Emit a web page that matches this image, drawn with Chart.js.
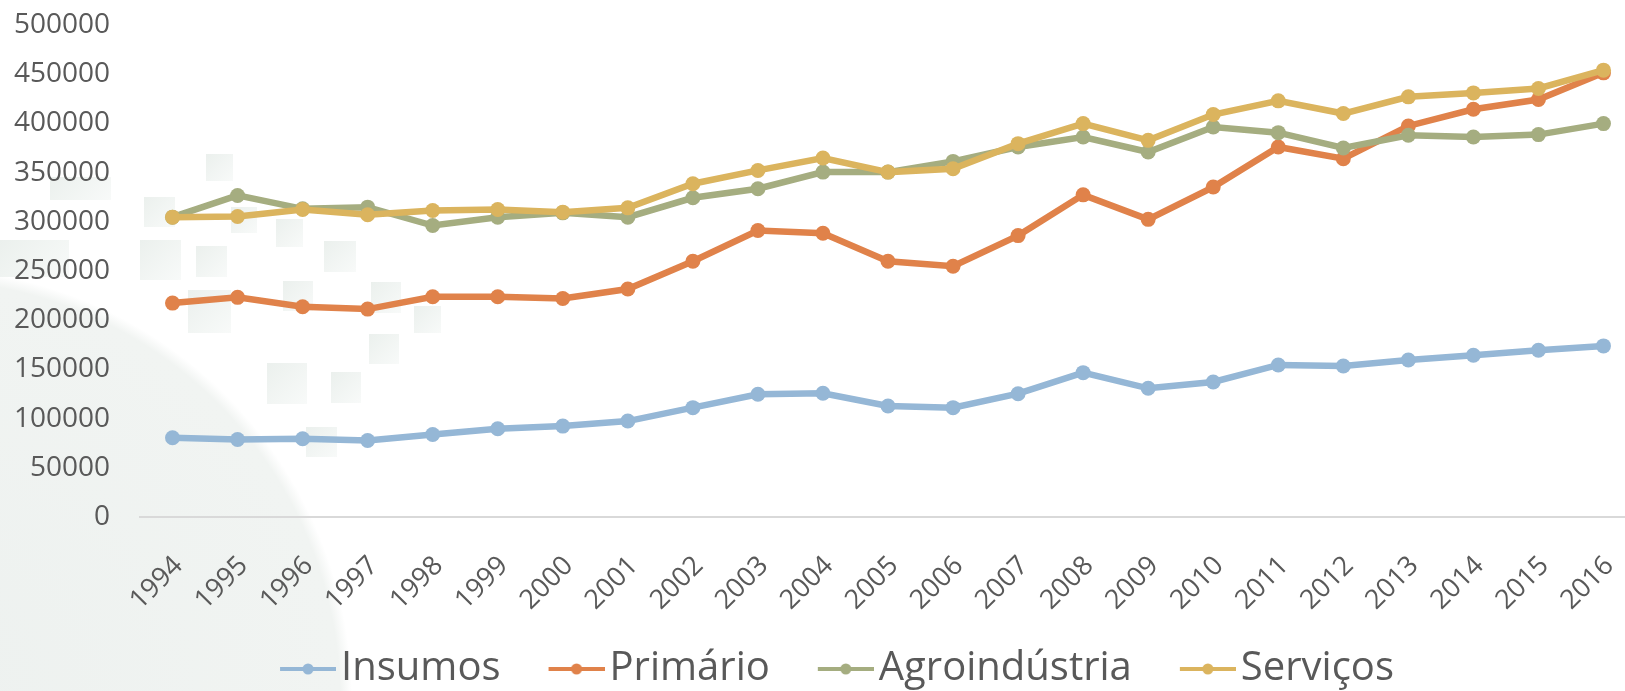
<!DOCTYPE html>
<html>
<head>
<meta charset="utf-8">
<script src="https://cdn.jsdelivr.net/npm/chart.js@4/dist/chart.umd.min.js"></script>
<style>
  html, body { margin: 0; padding: 0; background: #fff; overflow: hidden; }
  #wrap {
    position: relative; width: 1674px; height: 691px;
    background: radial-gradient(circle at -80px 700px, #edf1ef 0, #f1f4f2 420px, rgba(255,255,255,0) 432px);
  }
  #wrap .sq { position: absolute; background: linear-gradient(135deg, #ebf0ed, #f8faf9); }
  #chart { position: absolute; left: 0; top: 0; }
</style>
</head>
<body>
<div id="wrap"><canvas id="chart" width="1674" height="691"></canvas></div>
<script>
const years = ['1994','1995','1996','1997','1998','1999','2000','2001','2002','2003','2004','2005',
               '2006','2007','2008','2009','2010','2011','2012','2013','2014','2015','2016'];

const insumos = [80500, 78800, 79500, 77800, 83900, 89700, 92400, 97500, 111100, 124700, 125700, 112800,
                 111100, 125300, 146700, 130800, 137200, 154500, 153500, 159600, 164400, 169500, 173900];
const primario = [217400, 223200, 213700, 211300, 223800, 223800, 222100, 231700, 259900, 291100, 288400, 259900,
                  254800, 286000, 327400, 302500, 335300, 376000, 364100, 397400, 414400, 424300, 451400];
const agroindustria = [304700, 326800, 313200, 314900, 296200, 304700, 309100, 304700, 324400, 333600, 350500, 350500,
                       361400, 376000, 386200, 370900, 396400, 390600, 375000, 387900, 386200, 388600, 399800];
const servicos = [304700, 305400, 312500, 307100, 311500, 312500, 309800, 314200, 338700, 352200, 364800, 350500,
                  353900, 379400, 399800, 382800, 409000, 422900, 410000, 427000, 431000, 435500, 454100];

const names = ['Insumos', 'Primário', 'Agroindústria', 'Serviços'];
const colors = ['#95b7d6', '#e0824a', '#a5ad80', '#dbb45e'];

const FONT = "'Open Sans', 'Noto Sans', sans-serif";
const GREY = '#595959';

// faint squares of the slide background (x, y, w, h)
const decor = [
    [206, 154, 27, 27], [144, 197, 31, 30], [231, 207, 26, 26], [276, 219, 27, 28],
    [140, 240, 41, 40], [196, 246, 31, 31], [324, 241, 32, 31], [283, 281, 30, 30],
    [188, 290, 43, 43], [371, 282, 30, 31], [414, 306, 27, 27], [369, 334, 30, 30],
    [267, 363, 40, 41], [331, 372, 30, 31], [306, 427, 31, 30], [0, 240, 69, 37],
    [50, 177, 61, 23]
];
const wrap = document.getElementById('wrap');
decor.forEach(([x, y, w, h]) => {
    const d = document.createElement('div');
    d.className = 'sq';
    d.style.cssText = `left:${x}px;top:${y}px;width:${w}px;height:${h}px`;
    wrap.insertBefore(d, wrap.firstChild);
});

// little line+dot marker used in the legend
function legendMarker(color) {
    const c = document.createElement('canvas');
    c.width = 109; c.height = 14;
    const g = c.getContext('2d');
    g.strokeStyle = color; g.lineWidth = 4;
    g.beginPath(); g.moveTo(53, 7); g.lineTo(109, 7); g.stroke();
    g.fillStyle = color;
    g.beginPath(); g.arc(81, 7, 5.5, 0, Math.PI * 2); g.fill();
    return c;
}

function series(i, values, order) {
    return {
        label: names[i],
        data: values,
        borderColor: colors[i],
        backgroundColor: colors[i],
        borderWidth: 6.5,
        pointRadius: 7.5,
        pointHoverRadius: 7.5,
        pointBorderWidth: 0,
        tension: 0,
        order: order
    };
}

new Chart(document.getElementById('chart'), {
    type: 'line',
    data: {
        labels: years,
        datasets: [
            series(0, insumos, 4),
            series(1, primario, 3),
            series(2, agroindustria, 2),
            series(3, servicos, 1)
        ]
    },
    options: {
        responsive: false,
        animation: false,
        layout: { padding: { top: 25, right: 38, bottom: 0 } },
        scales: {
            x: {
                offset: true,
                afterFit: s => { s.height = 122; },
                grid: { display: false, drawTicks: false },
                border: { display: true, color: '#d9d9d9', width: 2 },
                ticks: {
                    color: GREY,
                    font: { family: FONT, size: 27 },
                    minRotation: 45,
                    maxRotation: 45,
                    padding: 33,
                    labelOffset: 6,
                    autoSkip: false
                }
            },
            y: {
                min: 0,
                max: 500000,
                afterFit: s => { s.width = 140; },
                grid: { display: true, drawOnChartArea: false, drawTicks: true, tickLength: 30, color: 'rgba(0,0,0,0)' },
                border: { display: false },
                ticks: {
                    stepSize: 50000,
                    color: GREY,
                    padding: 0,
                    font: { family: FONT, size: 28 },
                    callback: v => String(v)
                }
            }
        },
        plugins: {
            tooltip: { enabled: false },
            legend: {
                position: 'bottom',
                reverse: true,
                maxHeight: 52,
                labels: {
                    color: GREY,
                    font: { family: FONT, size: 40 },
                    usePointStyle: true,
                    pointStyleWidth: 79,
                    padding: 10,
                    generateLabels: chart => {
                        const items = Chart.defaults.plugins.legend.labels.generateLabels(chart);
                        items.forEach(it => {
                            const idx = names.indexOf(it.text);
                            it.pointStyle = legendMarker(colors[idx]);
                        });
                        return items;
                    }
                }
            }
        }
    }
});
</script>
</body>
</html>
